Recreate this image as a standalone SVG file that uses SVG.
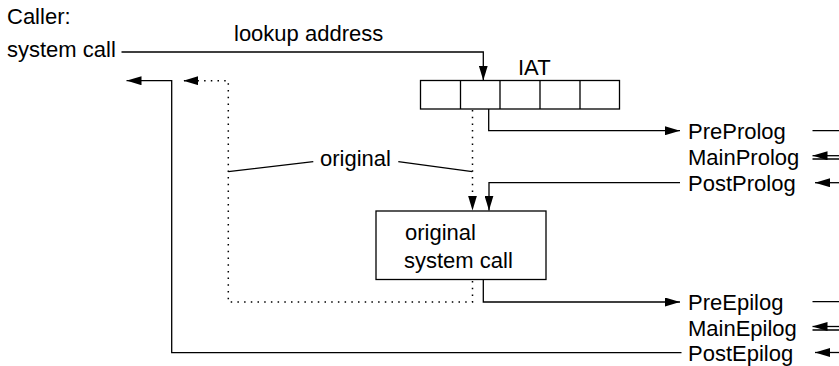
<svg xmlns="http://www.w3.org/2000/svg" width="839" height="366" viewBox="0 0 839 366">
<style>
text{font-family:"Liberation Sans",Arial,Helvetica,sans-serif;font-size:22px;fill:#000}
.ln{fill:none;stroke:#000;stroke-width:1.3}
.dot{fill:none;stroke:#000;stroke-width:1.5;stroke-dasharray:1.5 5.2}
.box{fill:#fff;stroke:#000;stroke-width:1.3}
</style>
<defs>
<marker id="ah" markerUnits="userSpaceOnUse" markerWidth="15" markerHeight="9" refX="15" refY="4.5" orient="auto" viewBox="0 0 15 9">
<path d="M0,0 L15,4.5 L0,9 z" fill="#000" stroke="none"/>
</marker>
</defs>
<rect width="839" height="366" fill="#fff"/>
<g id="caller">
<text x="7" y="24">Caller:</text>
<text x="7" y="57">system call</text>
</g>
<g id="lookup-label"><text x="234" y="41">lookup address</text></g>
<g id="iat">
<text x="518" y="75">IAT</text>
<rect class="box" x="420.5" y="80.5" width="199" height="28.5"/>
<path class="ln" d="M460.5,80.5V109M500,80.5V109M540,80.5V109M580,80.5V109"/>
</g>
<g id="original-label"><text x="320" y="166">original</text></g>
<g id="original-call">
<rect class="box" x="376" y="211" width="170" height="68.5"/>
<text x="405" y="240">original</text>
<text x="404" y="267.5">system call</text>
</g>
<g id="prolog">
<text x="688" y="139">PreProlog</text>
<text x="688" y="164.5">MainProlog</text>
<text x="688" y="190.5">PostProlog</text>
</g>
<g id="epilog">
<text x="688" y="310">PreEpilog</text>
<text x="688" y="335.5">MainEpilog</text>
<text x="688" y="361">PostEpilog</text>
</g>
<g id="connectors">
<path class="ln" d="M121.5,52H483.3V80.5" marker-end="url(#ah)"/>
<path class="ln" d="M488.7,109V130.7H680" marker-end="url(#ah)"/>
<path class="ln" d="M680,182.7H489V210.5" marker-end="url(#ah)"/>
<path class="ln" d="M483.3,279.5V302H680" marker-end="url(#ah)"/>
<path class="ln" d="M681.5,352.7H171.7V80.7H126.5" marker-end="url(#ah)"/>
<path class="dot" d="M472.5,110V210.5" marker-end="url(#ah)"/>
<path class="dot" d="M472.5,281V302H228.3V80.7H183.3" marker-end="url(#ah)"/>
<path class="ln" d="M228.3,171.7L313.3,161.7M398.3,161.7L472.3,171.7"/>
<path class="ln" d="M812.5,130.7H839M812.5,159H839M812.5,301.7H839M812.5,330H839"/>
<path class="ln" d="M839,155.7H812.5" marker-end="url(#ah)"/>
<path class="ln" d="M839,182.7H815" marker-end="url(#ah)"/>
<path class="ln" d="M839,326.5H812.5" marker-end="url(#ah)"/>
<path class="ln" d="M839,352.5H815" marker-end="url(#ah)"/>
</g>
</svg>
